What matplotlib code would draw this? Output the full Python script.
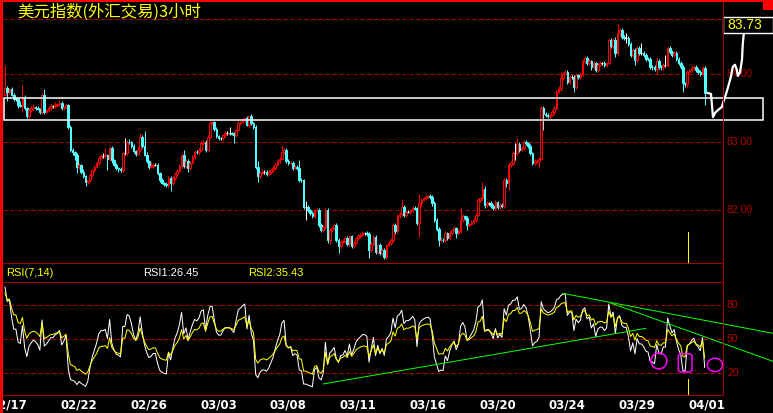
import matplotlib
matplotlib.use("Agg")
import matplotlib.pyplot as plt
from matplotlib.patches import Rectangle, Ellipse, FancyBboxPatch
from matplotlib.lines import Line2D

W, H = 773, 413

# ---- 3-hour bars of the US dollar index ----
first_open = 83.70
closes = [
    83.80, 83.74, 83.78, 83.70, 83.63, 83.63, 83.55, 83.54, 83.67, 83.50,
    83.39, 83.47, 83.50, 83.52, 83.51, 83.49, 83.45, 83.70, 83.45, 83.47,
    83.50, 83.53, 83.53, 83.55, 83.56, 83.58, 83.50, 83.52, 83.55, 83.23,
    82.89, 82.85, 82.81, 82.64, 82.66, 82.57, 82.50, 82.41, 82.44, 82.52,
    82.59, 82.64, 82.69, 82.77, 82.80, 82.80, 82.81, 82.76, 82.92, 82.74,
    82.67, 82.62, 82.61, 82.59, 82.84, 82.84, 83.01, 83.00, 82.95, 82.87,
    82.83, 82.89, 83.08, 82.95, 82.82, 82.72, 82.64, 82.65, 82.67, 82.67,
    82.55, 82.44, 82.40, 82.38, 82.37, 82.47, 82.40, 82.47, 82.54, 82.58,
    82.65, 82.81, 82.65, 82.72, 82.62, 82.70, 82.79, 82.86, 82.85, 82.89,
    82.99, 83.01, 82.89, 83.08, 83.28, 83.30, 83.20, 83.09, 83.06, 83.06,
    83.10, 83.13, 83.13, 83.13, 83.12, 83.11, 83.18, 83.28, 83.30, 83.33,
    83.35, 83.26, 83.38, 83.28, 83.23, 82.64, 82.50, 82.55, 82.57, 82.57,
    82.54, 82.56, 82.59, 82.62, 82.67, 82.72, 82.76, 82.86, 82.89, 82.72,
    82.69, 82.70, 82.62, 82.63, 82.62, 82.45, 82.44, 82.05, 82.05, 82.00,
    81.96, 81.91, 82.00, 82.01, 81.79, 81.71, 81.75, 82.00, 81.56, 81.71,
    81.74, 81.78, 81.56, 81.47, 81.54, 81.55, 81.59, 81.51, 81.62, 81.47,
    81.52, 81.59, 81.62, 81.64, 81.66, 81.66, 81.65, 81.42, 81.51, 81.61,
    81.39, 81.49, 81.37, 81.42, 81.32, 81.49, 81.52, 81.56, 81.78, 81.69,
    81.91, 81.95, 82.05, 81.93, 81.98, 81.98, 82.00, 82.04, 82.02, 81.81,
    82.10, 82.15, 82.18, 82.20, 82.21, 82.20, 82.10, 81.86, 81.73, 81.56,
    81.57, 81.56, 81.66, 81.59, 81.66, 81.71, 81.74, 81.66, 81.70, 81.86,
    81.91, 81.88, 81.78, 81.80, 81.83, 81.86, 81.93, 82.15, 82.18, 82.32,
    82.08, 82.10, 82.10, 82.07, 82.03, 82.12, 82.05, 82.08, 82.06, 82.45,
    82.40, 82.66, 82.70, 82.84, 82.84, 82.98, 82.89, 82.91, 83.01, 82.99,
    82.94, 82.84, 82.69, 82.72, 82.73, 82.76, 83.50, 83.42, 83.40, 83.38,
    83.40, 83.44, 83.50, 83.74, 83.79, 83.94, 84.01, 84.04, 83.89, 83.96,
    83.96, 83.82, 83.99, 83.96, 84.00, 84.19, 84.24, 84.16, 84.19, 84.11,
    84.16, 84.06, 84.14, 84.16, 84.16, 84.14, 84.16, 84.50, 84.41, 84.50,
    84.31, 84.60, 84.65, 84.55, 84.53, 84.53, 84.45, 84.28, 84.36, 84.21,
    84.38, 84.31, 84.31, 84.28, 84.23, 84.22, 84.11, 84.10, 84.08, 84.19,
    84.11, 84.10, 84.14, 84.14, 84.38, 84.33, 84.28, 84.31, 84.23, 84.16,
    84.11, 83.87, 83.85, 84.04, 84.06, 84.09, 84.11, 84.06, 84.04, 84.01,
    84.09, 83.72,
]
# shadow lengths above / below the body, in hundredths
wick_up = [
    34, 3, 2, 3, 3, 3, 2, 6, 17, 3,   2, 3, 3, 5, 2, 3, 2, 2, 8, 2,
    3, 4, 2, 4, 2, 4, 3, 2, 3, 2,     2, 3, 2, 3, 4, 2, 3, 2, 1, 3,
    2, 3, 3, 3, 3, 4, 10, 2, 3, 3,    2, 3, 2, 3, 2, 23, 2, 4, 2, 3,
    2, 4, 5, 3, 22, 3, 2, 6, 3, 2,    2, 2, 3, 2, 3, 3, 3, 3, 2, 3,
    3, 3, 7, 3, 3, 2, 3, 2, 3, 2,     3, 2, 3, 2, 3, 1, 2, 3, 2, 2,
    2, 3, 3, 9, 2, 3, 2, 3, 2, 2,     2, 3, 2, 3, 2, 2, 8, 2, 3, 2,
    2, 3, 2, 3, 2, 3, 2, 9, 2, 3,     3, 3, 2, 3, 3, 12, 2, 2, 9, 3,
    2, 3, 2, 3, 3, 2, 3, 3, 3, 3,     2, 3, 3, 3, 2, 3, 3, 3, 2, 2,
    3, 2, 3, 2, 3, 2, 3, 3, 2, 3,     3, 2, 3, 2, 3, 2, 3, 3, 3, 3,
    3, 2, 11, 3, 2, 3, 2, 3, 2, 3,    14, 3, 2, 3, 2, 3, 2, 3, 2, 3,
    3, 2, 3, 2, 3, 2, 3, 2, 3, 19,    3, 2, 3, 2, 3, 2, 3, 3, 2, 9,
    3, 3, 2, 3, 2, 3, 2, 3, 2, 3,     3, 3, 2, 3, 15, 9, 3, 3, 2, 3,
    2, 3, 2, 3, 2, 3, 3, 3, 2, 3,     2, 3, 3, 3, 4, 10, 3, 3, 3, 3,
    3, 3, 3, 2, 3, 3, 3, 3, 3, 2,     3, 2, 3, 3, 2, 3, 2, 3, 3, 3,
    5, 14, 3, 3, 3, 7, 3, 3, 3, 3,    3, 3, 15, 3, 3, 2, 3, 2, 3, 7,
    3, 2, 3, 14, 3, 3, 2, 3, 3, 2,    3, 3, 2, 3, 2, 3, 3, 2, 3, 2,
    3, 3,
]
wick_dn = [
    0, 14, 3, 2, 3, 3, 4, 2, 9, 3,    4, 3, 2, 3, 3, 2, 3, 3, 3, 2,
    3, 2, 3, 2, 3, 2, 3, 3, 2, 3,     4, 3, 7, 9, 3, 3, 2, 6, 3, 2,
    3, 3, 2, 3, 2, 3, 3, 17, 3, 4,    2, 3, 4, 3, 3, 3, 3, 2, 3, 3,
    3, 2, 3, 3, 2, 3, 4, 2, 3, 2,     3, 3, 2, 3, 3, 4, 12, 3, 2, 3,
    2, 3, 3, 3, 6, 3, 2, 3, 2, 3,     2, 3, 3, 2, 3, 2, 3, 3, 2, 3,
    3, 2, 3, 3, 2, 12, 3, 2, 3, 2,    3, 2, 3, 3, 3, 4, 8, 3, 2, 3,
    3, 2, 3, 2, 3, 2, 3, 2, 3, 3,     2, 3, 3, 2, 3, 3, 3, 3, 20, 3,
    3, 3, 3, 2, 3, 3, 3, 3, 4, 5,     3, 2, 3, 10, 3, 2, 3, 4, 3, 3,
    3, 2, 3, 3, 2, 3, 3, 12, 3, 3,    4, 3, 3, 3, 4, 3, 2, 3, 3, 4,
    3, 3, 3, 3, 3, 2, 3, 3, 2, 3,     20, 3, 2, 3, 2, 3, 3, 3, 3, 9,
    3, 3, 3, 2, 3, 3, 2, 7, 3, 3,     3, 3, 7, 3, 2, 3, 3, 2, 3, 3,
    5, 3, 2, 3, 3, 2, 3, 3, 3, 2,     6, 10, 3, 3, 10, 3, 3, 2, 3, 3,
    3, 2, 3, 3, 2, 11, 2, 24, 3, 3,   3, 2, 3, 3, 2, 3, 3, 2, 4, 3,
    3, 8, 3, 3, 3, 2, 3, 3, 3, 4,     3, 3, 3, 2, 3, 3, 3, 3, 3, 3,
    5, 3, 3, 3, 3, 7, 3, 3, 3, 7,     3, 3, 3, 3, 3, 3, 3, 3, 3, 7,
    3, 3, 3, 3, 3, 3, 3, 2, 3, 3,     3, 13, 3, 3, 2, 3, 3, 3, 3, 3,
    3, 17,
]

date_labels = ["02/17", "02/22", "02/26", "03/03", "03/08", "03/11",
               "03/16", "03/20", "03/24", "03/29", "04/01"]
date_bars = [2, 34, 66, 98, 130, 162, 194, 226, 258, 290, 322]

price_levels = [84.0, 83.0, 82.0]
rsi_levels = [80, 50, 20]
title = "美元指数(外汇交易)3小时"
rsi_header = ["RSI(7,14)", "RSI1:26.45", "RSI2:35.43"]
cursor_price = "83.73"

# RSI periods and their values on the bar before the first one shown
rsi_periods = [7, 14]
rsi_start = [95.0, 90.0]

# hand-drawn projection after the last bar (bar, price)
sketch_bar = [322.5, 323.9, 324.8, 325.7, 327.1, 328.9, 329.4, 330.7, 331.7,
              333.0, 333.9, 334.9, 335.8, 336.2, 337.2, 338.1, 338.5, 339.0,
              339.9, 340.4, 341.3]
sketch_price = [83.725, 83.71, 83.37, 83.43, 83.475, 83.52, 83.58, 83.70,
                83.81, 83.96, 84.11, 84.14, 84.06, 83.975, 84.03, 84.21,
                84.46, 84.61, 84.75, 84.80, 84.77]
# consolidation band (bar range, price range)
band_bars = (-0.46, 347.7)
band_prices = (83.326, 83.65)

# RSI trend lines (bar, value) pairs
trend_lines = [((145.9, 10.6), (294.0, 59.7)),
               ((255.8, 90.6), (352.3, 55.3)),
               ((277.5, 82.3), (352.3, 30.6))]
marker_bar = 313.3


# ---- RSI as the trading software defines it: SMA(gain)/SMA(|change|) ----
def rsi(cl, n, start, prev_close, typical_move=0.06):
    up = typical_move * start / 100.0
    ab = typical_move
    out = []
    prev = prev_close
    for c in cl:
        d = c - prev
        up = (max(d, 0.0) + (n - 1) * up) / n
        ab = (abs(d) + (n - 1) * ab) / n
        out.append(100.0 * up / ab)
        prev = c
    return out


rsi1 = rsi(closes, rsi_periods[0], rsi_start[0], first_open)
rsi2 = rsi(closes, rsi_periods[1], rsi_start[1], first_open)

# ---- figure ----
RED = "#ff0000"
DKRED = "#a00000"
GRID = "#b40000"
CYAN = "#54ffff"
YEL = "#ffff00"
PX = 0.72  # one pixel in points

fig = plt.figure(figsize=(W / 100, H / 100), dpi=100, facecolor="black")


def fx(px):
    return px / W


def fy(py):
    return 1 - py / H


xl = (-0.92, 329.4)
ax = fig.add_axes([fx(3), fy(263), fx(723) - fx(3), fy(19) - fy(263)])
ax2 = fig.add_axes([fx(3), fy(395), fx(723) - fx(3), fy(282) - fy(395)])
for a in (ax, ax2):
    a.set_facecolor("black")
    a.set_xlim(*xl)
    a.set_xticks([])
    a.set_yticks([])
    for s in a.spines.values():
        s.set_visible(False)
ax.set_ylim(81.225, 84.813)
ax2.set_ylim(0.88, 100.6)

# candles
prev = first_open
for i, c in enumerate(closes):
    o = prev
    hi = max(o, c) + wick_up[i] / 100
    lo = min(o, c) - wick_dn[i] / 100
    if c > o:
        col = RED
    elif c < o:
        col = CYAN
    else:
        col = "white"
    ax.vlines(i, lo, hi, color=col, lw=PX, zorder=3)
    if col == "white":
        ax.hlines(c, i - 0.45, i + 0.45, color=col, lw=PX, zorder=4)
    else:
        face = "black" if col == RED else CYAN
        ax.add_patch(Rectangle((i - 0.38, min(o, c)), 0.76, max(abs(c - o), 0.004),
                               facecolor=face, edgecolor=col, lw=PX, zorder=4))
    prev = c

# grids
for lv in price_levels:
    ln = ax.axhline(lv, color=GRID, lw=PX, zorder=1)
    ln.set_dashes([4, 3])
    ax.text(1.0045, lv, f"{lv:.2f}", transform=ax.get_yaxis_transform(),
            color=GRID, fontsize=7.5, family="Liberation Sans", va="center",
            ha="left", clip_on=False, zorder=2)
for lv in rsi_levels:
    ln = ax2.axhline(lv, color=GRID, lw=PX, zorder=1)
    ln.set_dashes([4, 3])
    ax2.text(1.0055, lv, f"{lv}", transform=ax2.get_yaxis_transform(),
             color=GRID, fontsize=7.5, family="Liberation Sans", va="center",
             ha="left", clip_on=False)
topln = ax.axhline(84.813, color=GRID, lw=PX, zorder=1)
topln.set_dashes([4, 3])

# RSI lines
ax2.plot(range(len(rsi1)), rsi1, color="white", lw=PX, zorder=3)
ax2.plot(range(len(rsi2)), rsi2, color=YEL, lw=PX, zorder=3)

# drawing objects
ax.add_patch(Rectangle((band_bars[0], band_prices[0]), band_bars[1] - band_bars[0],
                       band_prices[1] - band_prices[0], fill=False,
                       edgecolor="white", lw=1.1, zorder=5, clip_on=False))
ax.plot(sketch_bar, sketch_price, color="white", lw=1.6, zorder=8,
        clip_on=False, solid_joinstyle="round")
ax.axvline(marker_bar, ymin=0, ymax=0.127, color=YEL, lw=PX, zorder=5)
ax2.axvline(marker_bar, ymin=0, ymax=0.14, color=YEL, lw=PX, zorder=5)
for (x0, y0), (x1, y1) in trend_lines:
    ax2.plot([x0, x1], [y0, y1], color="#00ff00", lw=PX, zorder=4, clip_on=False)
ax2.add_patch(Ellipse((300.0, 30.9), 7.3, 14.1, fill=False, edgecolor="#ff00ff",
                      lw=1.1, zorder=6))
ax2.add_patch(Ellipse((325.7, 27.4), 7.0, 11.8, fill=False, edgecolor="#ff00ff",
                      lw=1.1, zorder=6, clip_on=False))
ax2.add_patch(FancyBboxPatch((308.9, 21.2), 6.3, 16.0,
                             boxstyle="round,pad=0,rounding_size=1.2",
                             mutation_aspect=2.0, fill=False,
                             edgecolor="#ff00ff", lw=1.1, zorder=6))

# date axis
for b, lab in zip(date_bars, date_labels):
    ax2.text(b, -0.09, lab, transform=ax2.get_xaxis_transform(), color="white",
             fontsize=8.5, fontweight="bold", family="DejaVu Sans",
             ha="center", va="center", clip_on=False)

# headers
fig.text(fx(17), fy(12), title, color=YEL, fontsize=11.8,
         family=["Noto Sans CJK SC", "DejaVu Sans"], va="center", ha="left")
fig.text(fx(6), fy(273), rsi_header[0], color=YEL, fontsize=8,
         family="Liberation Sans", va="center")
fig.text(fx(143), fy(273), rsi_header[1], color="white", fontsize=8,
         family="Liberation Sans", va="center")
fig.text(fx(248), fy(273), rsi_header[2], color=YEL, fontsize=8,
         family="Liberation Sans", va="center")


# frame lines
def fline(x0, y0, x1, y1, color, lw=PX, z=9):
    fig.add_artist(Line2D([fx(x0), fx(x1)], [fy(y0), fy(y1)], color=color,
                          lw=lw, zorder=z))


fline(3, 263, 723, 263, DKRED)
fline(3, 282, 723, 282, DKRED)
fline(3, 395, 723, 395, DKRED)
fline(723, 2, 723, 395, DKRED)

# cursor price box
fig.add_artist(Rectangle((fx(723), fy(33)), fx(50), 16 / H, facecolor="black",
                         edgecolor="white", lw=1.0, zorder=7))
fig.text(fx(727), fy(25), cursor_price, color=YEL, fontsize=10,
         family="Liberation Sans", va="center", ha="left", zorder=7.5)

# window chrome
fig.add_artist(Rectangle((0, 0), fx(3), 1, facecolor=RED, edgecolor="none", zorder=20))
fig.add_artist(Rectangle((0, fy(2)), 1, 2 / H, facecolor=RED, edgecolor="none", zorder=20))
fig.add_artist(Rectangle((fx(763), fy(10)), fx(10), 8 / H, facecolor=RED,
                         edgecolor="none", zorder=20))

fig.savefig("out.png", dpi=100, facecolor="black")
